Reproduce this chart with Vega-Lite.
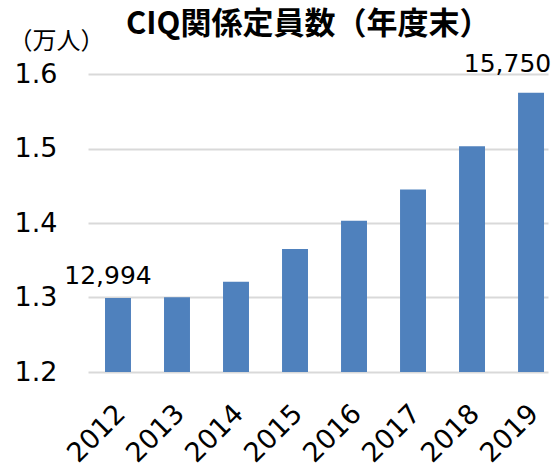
{
  "$schema": "https://vega.github.io/schema/vega-lite/v6.json",
  "width": 460,
  "height": 298,
  "autosize": {"type": "none"},
  "padding": {"left": 88, "top": 74, "right": 5, "bottom": 98},
  "background": "white",
  "title": {
    "text": "CIQ関係定員数（年度末）",
    "font": "Noto Sans CJK JP",
    "fontSize": 31,
    "fontWeight": "bold",
    "color": "#000000",
    "anchor": "start",
    "frame": "group",
    "baseline": "alphabetic",
    "offset": -36,
    "dx": 38
  },
  "data": {
    "values": [
      {"year": "2012", "value": 1.2994, "label": "12,994"},
      {"year": "2013", "value": 1.3003, "label": ""},
      {"year": "2014", "value": 1.321, "label": ""},
      {"year": "2015", "value": 1.365, "label": ""},
      {"year": "2016", "value": 1.403, "label": ""},
      {"year": "2017", "value": 1.445, "label": ""},
      {"year": "2018", "value": 1.503, "label": ""},
      {"year": "2019", "value": 1.575, "label": "15,750"}
    ]
  },
  "encoding": {
    "x": {
      "field": "year",
      "type": "ordinal",
      "scale": {"paddingInner": 0.56, "paddingOuter": 0.178, "align": 0.81},
      "axis": {
        "title": null,
        "domain": false,
        "ticks": false,
        "labelAngle": -45,
        "labelAlign": "right",
        "labelBaseline": "top",
        "labelPadding": 28,
        "labelOffset": -6,
        "labelFont": "DejaVu Sans",
        "labelFontSize": 27,
        "labelColor": "#000000"
      }
    },
    "y": {
      "field": "value",
      "type": "quantitative",
      "scale": {"domain": [1.2, 1.6], "nice": false, "zero": false},
      "axis": {
        "title": "（万人）",
        "titleFont": "Noto Sans CJK JP",
        "titleFontSize": 24,
        "titleFontWeight": "normal",
        "titleColor": "#000000",
        "titleAngle": 0,
        "titleAlign": "left",
        "titleBaseline": "alphabetic",
        "titleX": -80,
        "titleY": -26,
        "values": [1.2, 1.3, 1.4, 1.5, 1.6],
        "format": ".1f",
        "domain": false,
        "ticks": false,
        "grid": true,
        "gridColor": "#d9d9d9",
        "gridWidth": 2,
        "labelFont": "DejaVu Sans",
        "labelFontSize": 27,
        "labelColor": "#000000",
        "labelPadding": 31,
        "labelBaseline": "middle"
      }
    }
  },
  "layer": [
    {"mark": {"type": "bar", "color": "#4f81bd", "clip": true}},
    {
      "transform": [{"filter": "datum.year == '2012'"}],
      "mark": {"type": "text", "font": "DejaVu Sans", "fontSize": 25, "color": "#000000", "align": "center", "baseline": "alphabetic", "dx": -10, "dy": -14},
      "encoding": {"text": {"field": "label"}}
    },
    {
      "transform": [{"filter": "datum.year == '2019'"}],
      "mark": {"type": "text", "font": "DejaVu Sans", "fontSize": 25, "color": "#000000", "align": "center", "baseline": "alphabetic", "dx": -23.5, "dy": -21},
      "encoding": {"text": {"field": "label"}}
    }
  ],
  "config": {"view": {"stroke": null}}
}
